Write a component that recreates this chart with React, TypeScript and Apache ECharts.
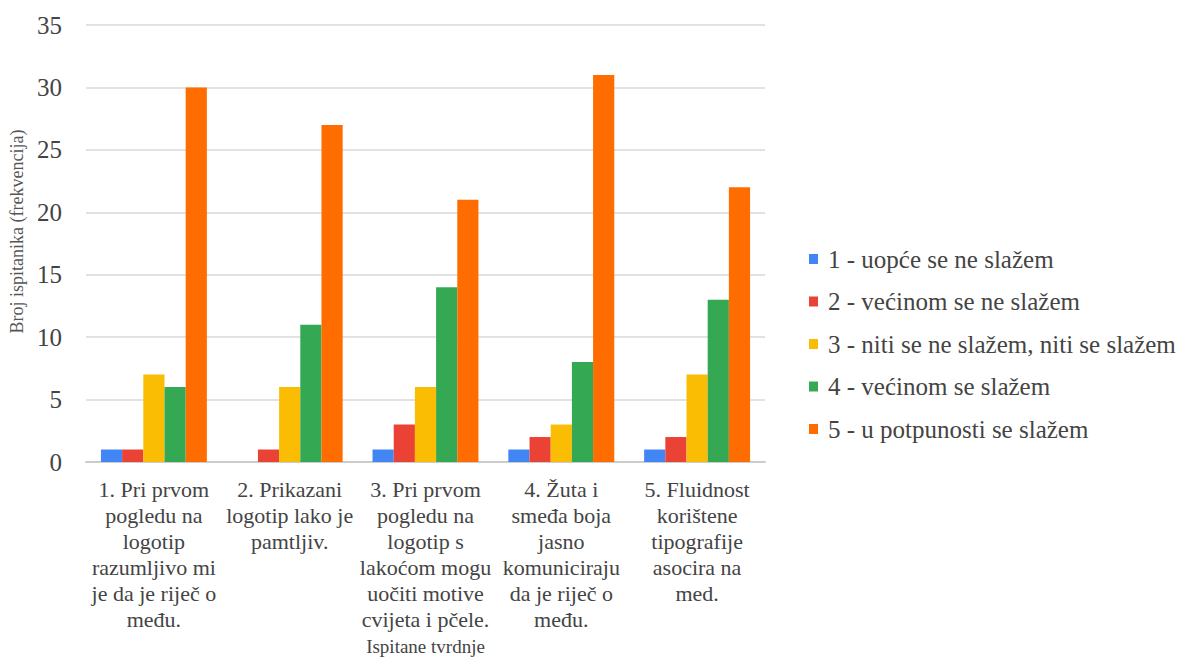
import React, { useEffect, useRef } from "react";
import * as echarts from "echarts";

const categories = [
  "1. Pri prvom\npogledu na\nlogotip\nrazumljivo mi\nje da je riječ o\nmeđu.",
  "2. Prikazani\nlogotip lako je\npamtljiv.",
  "3. Pri prvom\npogledu na\nlogotip s\nlakoćom mogu\nuočiti motive\ncvijeta i pčele.",
  "4. Žuta i\nsmeđa boja\njasno\nkomuniciraju\nda je riječ o\nmeđu.",
  "5. Fluidnost\nkorištene\ntipografije\nasocira na\nmed.",
];

const seriesNames = [
  "1 - uopće se ne slažem",
  "2 - većinom se ne slažem",
  "3 - niti se ne slažem, niti se slažem",
  "4 - većinom se slažem",
  "5 - u potpunosti se slažem",
];

const s1 = [1, 0, 1, 1, 1];
const s2 = [1, 1, 3, 2, 2];
const s3 = [7, 6, 6, 3, 7];
const s4 = [6, 11, 14, 8, 13];
const s5 = [30, 27, 21, 31, 22];

const colors = ["#4285F4", "#EA4335", "#FBBC04", "#34A853", "#FF6D01"];
const FONT = "Liberation Serif";

export default function App() {
  const ref = useRef<HTMLDivElement>(null);
  useEffect(() => {
    if (!ref.current) return;
    const chart = echarts.init(ref.current, undefined, { renderer: "svg" });
    const data = [s1, s2, s3, s4, s5];
    chart.setOption({
      animation: false,
      color: colors,
      textStyle: { fontFamily: FONT },
      grid: {
        left: 86,
        right: 412,
        top: 25,
        bottom: 200,
        containLabel: false,
        outerBoundsMode: "none",
      },
      legend: {
        orient: "vertical",
        left: 804,
        top: 241.5,
        itemWidth: 9,
        itemHeight: 10,
        itemGap: 17.5,
        icon: "rect",
        textStyle: {
          fontFamily: FONT,
          fontSize: 25,
          lineHeight: 25,
          color: "#444",
          padding: [0, 0, 0, 5],
        },
        data: seriesNames,
      },
      xAxis: {
        type: "category",
        data: categories,
        name: "Ispitane tvrdnje",
        nameLocation: "middle",
        nameGap: 174,
        nameTextStyle: { fontFamily: FONT, fontSize: 19, color: "#444" },
        axisLine: { lineStyle: { color: "#cccccc", width: 2 } },
        axisTick: { show: false },
        axisLabel: {
          interval: 0,
          fontFamily: FONT,
          fontSize: 22,
          lineHeight: 26,
          color: "#444",
          margin: 14,
        },
      },
      yAxis: {
        type: "value",
        min: 0,
        max: 35,
        interval: 5,
        name: "Broj ispitanika (frekvencija)",
        nameLocation: "middle",
        nameGap: 57,
        nameTextStyle: {
          fontFamily: FONT,
          fontSize: 18,
          color: "#555",
          padding: [0, 0, 0, 24],
        },
        axisLine: { show: false },
        axisTick: { show: false },
        axisLabel: { fontFamily: FONT, fontSize: 25, color: "#444", margin: 24 },
        splitLine: { lineStyle: { color: "#d9d9d9", width: 1.5 } },
      },
      series: seriesNames.map((name, i) => ({
        name,
        type: "bar",
        data: data[i],
        barGap: "0%",
        barCategoryGap: "22%",
      })),
    });
    return () => chart.dispose();
  }, []);
  return (
    <div
      ref={ref}
      style={{ position: "absolute", left: 0, top: 0, width: 1177, height: 662 }}
    />
  );
}
